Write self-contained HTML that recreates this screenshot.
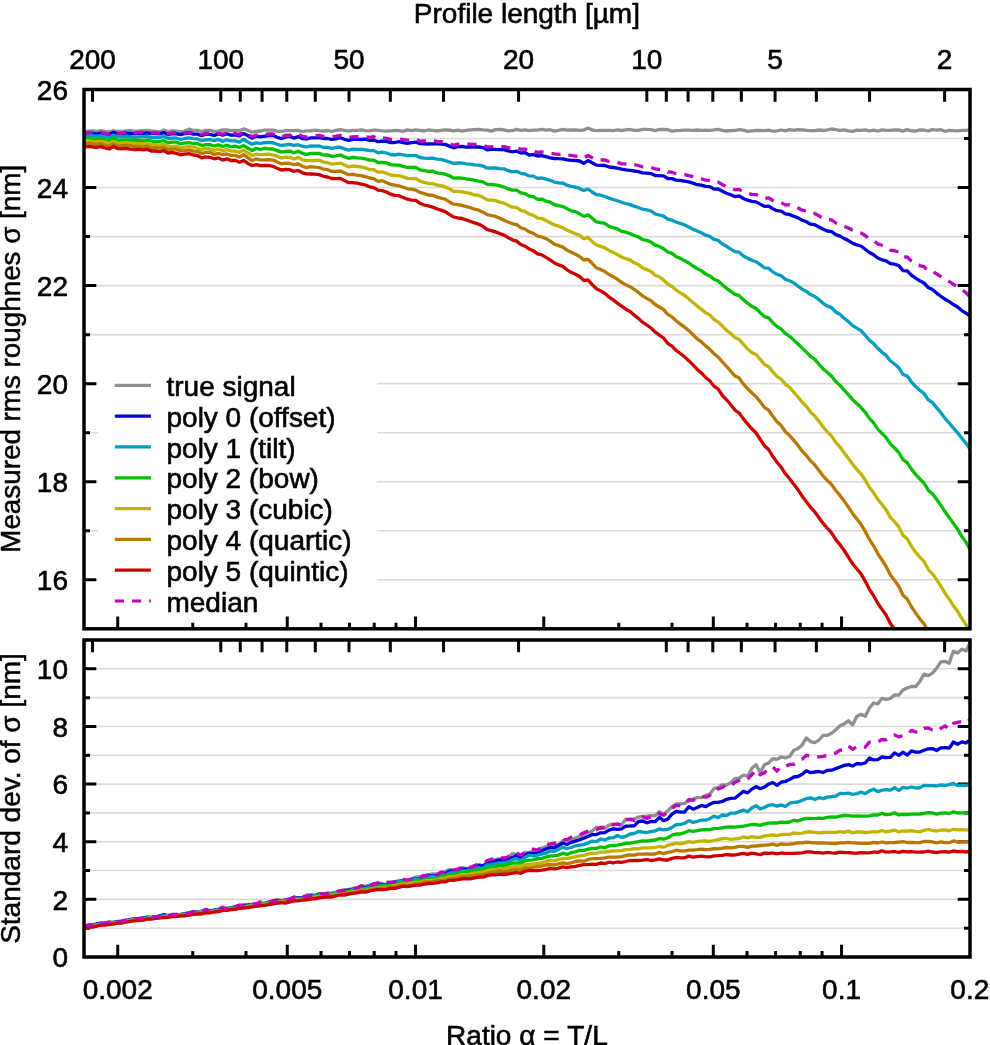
<!DOCTYPE html><html><head><meta charset="utf-8"><style>html,body{margin:0;padding:0;background:#fff;}svg{display:block;will-change:transform;}text{font-family:"Liberation Sans",sans-serif;font-size:28px;fill:#000;}</style></head><body>
<svg width="990" height="1045" viewBox="0 0 990 1045">
<rect width="990" height="1045" fill="#fff"/>
<defs><clipPath id="ct"><rect x="84.0" y="89.5" width="885.8" height="539.3"/></clipPath>
<clipPath id="cb"><rect x="84.0" y="640.0" width="885.8" height="317.0"/></clipPath></defs>
<path d="M84.0 579.77H969.8M84.0 530.75H969.8M84.0 481.72H969.8M84.0 432.69H969.8M84.0 383.66H969.8M84.0 334.64H969.8M84.0 285.61H969.8M84.0 236.58H969.8M84.0 187.55H969.8M84.0 138.53H969.8M84.0 928.18H969.8M84.0 899.36H969.8M84.0 870.55H969.8M84.0 841.73H969.8M84.0 812.91H969.8M84.0 784.09H969.8M84.0 755.27H969.8M84.0 726.45H969.8M84.0 697.64H969.8M84.0 668.82H969.8" stroke="#dadada" stroke-width="1.6" fill="none"/>
<path d="M117.73 628.80V616.50M117.73 957.00V944.70M192.75 628.80V622.80M192.75 957.00V951.00M245.98 628.80V622.80M245.98 957.00V951.00M287.27 628.80V616.50M287.27 957.00V944.70M321.00 628.80V622.80M321.00 957.00V951.00M349.52 628.80V622.80M349.52 957.00V951.00M374.23 628.80V622.80M374.23 957.00V951.00M396.02 628.80V622.80M396.02 957.00V951.00M415.52 628.80V616.50M415.52 957.00V944.70M543.77 628.80V616.50M543.77 957.00V944.70M618.79 628.80V622.80M618.79 957.00V951.00M672.02 628.80V622.80M672.02 957.00V951.00M713.30 628.80V616.50M713.30 957.00V944.70M747.04 628.80V622.80M747.04 957.00V951.00M775.56 628.80V622.80M775.56 957.00V951.00M800.26 628.80V622.80M800.26 957.00V951.00M822.06 628.80V622.80M822.06 957.00V951.00M841.55 628.80V616.50M841.55 957.00V944.70M92.53 89.50V101.80M92.53 640.00V652.30M220.78 89.50V101.80M220.78 640.00V652.30M240.28 89.50V101.80M240.28 640.00V652.30M262.07 89.50V101.80M262.07 640.00V652.30M286.78 89.50V101.80M286.78 640.00V652.30M315.30 89.50V101.80M315.30 640.00V652.30M349.03 89.50V101.80M349.03 640.00V652.30M390.32 89.50V101.80M390.32 640.00V652.30M443.55 89.50V101.80M443.55 640.00V652.30M518.57 89.50V101.80M518.57 640.00V652.30M646.82 89.50V101.80M666.31 89.50V101.80M666.31 640.00V652.30M688.10 89.50V101.80M688.10 640.00V652.30M712.81 89.50V101.80M712.81 640.00V652.30M741.33 89.50V101.80M741.33 640.00V652.30M775.06 89.50V101.80M775.06 640.00V652.30M816.35 89.50V101.80M816.35 640.00V652.30M869.58 89.50V101.80M869.58 640.00V652.30M944.60 89.50V101.80M944.60 640.00V652.30M84.00 579.77h12.30M970.00 579.77h-12.30M84.00 530.75h6.00M970.00 530.75h-6.00M84.00 481.72h12.30M970.00 481.72h-12.30M84.00 432.69h6.00M970.00 432.69h-6.00M84.00 383.66h12.30M970.00 383.66h-12.30M84.00 334.64h6.00M970.00 334.64h-6.00M84.00 285.61h12.30M970.00 285.61h-12.30M84.00 236.58h6.00M970.00 236.58h-6.00M84.00 187.55h12.30M970.00 187.55h-12.30M84.00 138.53h6.00M970.00 138.53h-6.00M84.00 928.18h6.00M970.00 928.18h-6.00M84.00 899.36h12.30M970.00 899.36h-12.30M84.00 870.55h6.00M970.00 870.55h-6.00M84.00 841.73h12.30M970.00 841.73h-12.30M84.00 812.91h6.00M970.00 812.91h-6.00M84.00 784.09h12.30M970.00 784.09h-12.30M84.00 755.27h6.00M970.00 755.27h-6.00M84.00 726.45h12.30M970.00 726.45h-12.30M84.00 697.64h6.00M970.00 697.64h-6.00M84.00 668.82h12.30M970.00 668.82h-12.30" stroke="#000" stroke-width="3" fill="none"/>
<g clip-path="url(#ct)" fill="none" stroke-width="3.3" stroke-linejoin="round">
<polyline stroke="#8f8f8f" points="84.0,131.6 88.2,131.1 92.4,130.8 96.6,131.5 100.8,130.7 105.0,131.3 109.2,131.6 113.4,131.0 117.6,131.4 121.8,131.5 126.0,131.0 130.2,130.6 134.4,131.4 138.6,131.0 142.8,131.0 147.0,130.3 151.2,130.9 155.4,131.3 159.6,131.9 163.8,130.0 168.0,131.7 172.2,130.8 176.4,131.1 180.6,131.7 184.8,131.3 189.0,129.1 193.2,130.5 197.4,130.3 201.6,131.5 205.8,130.4 210.0,130.3 214.2,131.5 218.4,131.1 222.6,129.8 226.8,130.0 231.0,130.7 235.2,130.4 239.4,130.8 243.6,128.9 247.8,130.3 252.0,132.2 256.2,131.3 260.4,131.0 264.6,130.2 268.8,130.2 273.0,130.1 277.2,131.1 281.4,131.5 285.6,130.6 289.8,130.6 294.0,130.6 298.2,130.5 302.4,131.6 306.6,130.9 310.8,130.8 315.0,130.1 319.2,130.7 323.4,131.2 327.6,130.5 331.8,131.5 336.0,130.3 340.2,129.7 344.4,130.3 348.6,131.1 352.8,130.3 357.0,130.4 361.2,129.9 365.4,130.6 369.6,130.9 373.8,130.0 378.0,130.4 382.2,130.8 386.4,131.1 390.6,130.9 394.8,130.5 399.0,130.6 403.2,131.3 407.4,129.9 411.6,130.6 415.8,129.8 420.0,130.3 424.2,131.0 428.4,130.0 432.6,130.3 436.8,131.0 441.0,130.3 445.2,129.9 449.4,130.1 453.6,131.0 457.8,130.1 462.0,131.2 466.2,130.4 470.4,129.8 474.6,129.6 478.8,129.4 483.0,129.9 487.2,130.2 491.4,131.1 495.6,129.6 499.8,129.5 504.0,129.9 508.2,130.8 512.4,130.7 516.6,129.3 520.8,130.3 525.0,129.9 529.2,130.7 533.4,130.2 537.6,130.2 541.8,129.4 546.0,130.1 550.2,129.7 554.4,131.1 558.6,130.3 562.8,129.3 567.0,130.1 571.2,129.9 575.4,130.0 579.6,130.4 583.8,130.0 588.0,128.1 592.2,130.0 596.4,130.6 600.6,130.4 604.8,130.4 609.0,130.4 613.2,130.7 617.4,129.9 621.6,130.5 625.8,129.9 630.0,129.5 634.2,130.4 638.4,130.3 642.6,129.4 646.8,129.4 651.0,129.7 655.2,130.7 659.4,129.5 663.6,129.5 667.8,129.7 672.0,131.1 676.2,130.6 680.4,130.4 684.6,130.1 688.8,130.2 693.0,130.3 697.2,130.0 701.4,130.3 705.6,130.1 709.8,130.3 714.0,129.9 718.2,129.4 722.4,130.4 726.6,131.0 730.8,130.6 735.0,130.5 739.2,129.6 743.4,130.2 747.6,131.4 751.8,130.9 756.0,130.4 760.2,130.5 764.4,130.6 768.6,130.2 772.8,131.1 777.0,130.8 781.2,130.0 785.4,130.9 789.6,129.7 793.8,130.3 798.0,129.6 802.2,129.8 806.4,130.4 810.6,130.7 814.8,130.7 819.0,130.0 823.2,130.5 827.4,129.9 831.6,129.0 835.8,129.7 840.0,130.3 844.2,129.8 848.4,130.8 852.6,131.3 856.8,130.2 861.0,130.4 865.2,129.9 869.4,131.0 873.6,130.1 877.8,131.1 882.0,129.9 886.2,130.3 890.4,130.4 894.6,130.0 898.8,129.9 903.0,131.1 907.2,129.6 911.4,130.9 915.6,131.0 919.8,129.8 924.0,130.0 928.2,131.0 932.4,129.6 936.6,130.1 940.8,129.7 945.0,131.3 949.2,130.4 953.4,130.7 957.6,130.8 961.8,130.4 966.0,130.4 970.0,129.9"/>
<polyline stroke="#0000d8" points="84.0,134.4 88.2,132.9 92.4,133.4 96.6,133.9 100.8,133.0 105.0,134.1 109.2,134.5 113.4,132.2 117.6,133.9 121.8,133.9 126.0,133.1 130.2,133.3 134.4,133.8 138.6,133.2 142.8,133.3 147.0,132.8 151.2,133.6 155.4,133.5 159.6,133.9 163.8,132.6 168.0,134.7 172.2,133.6 176.4,133.8 180.6,134.6 184.8,133.7 189.0,133.0 193.2,134.2 197.4,134.1 201.6,135.7 205.8,134.1 210.0,134.3 214.2,135.5 218.4,133.9 222.6,135.2 226.8,133.9 231.0,135.1 235.2,135.0 239.4,135.9 243.6,133.5 247.8,135.5 252.0,138.2 256.2,136.2 260.4,136.8 264.6,136.2 268.8,135.5 273.0,135.5 277.2,137.3 281.4,138.5 285.6,137.2 289.8,136.4 294.0,138.1 298.2,136.6 302.4,138.6 306.6,139.0 310.8,137.8 315.0,137.9 319.2,137.6 323.4,138.5 327.6,138.5 331.8,139.3 336.0,138.8 340.2,137.7 344.4,139.3 348.6,140.4 352.8,139.3 357.0,139.4 361.2,139.5 365.4,139.2 369.6,140.4 373.8,140.0 378.0,141.7 382.2,141.1 386.4,141.4 390.6,142.6 394.8,142.5 399.0,141.7 403.2,142.6 407.4,143.3 411.6,142.7 415.8,142.1 420.0,143.6 424.2,143.8 428.4,144.0 432.6,143.8 436.8,143.9 441.0,144.2 445.2,144.4 449.4,146.1 453.6,147.8 457.8,146.6 462.0,146.5 466.2,147.2 470.4,146.9 474.6,147.0 478.8,147.0 483.0,147.6 487.2,149.9 491.4,149.3 495.6,149.3 499.8,149.7 504.0,149.6 508.2,150.9 512.4,151.8 516.6,151.2 520.8,153.0 525.0,152.7 529.2,155.0 533.4,154.6 537.6,156.0 541.8,155.6 546.0,156.6 550.2,157.9 554.4,158.5 558.6,158.7 562.8,158.8 567.0,159.9 571.2,160.3 575.4,160.5 579.6,161.0 583.8,163.3 588.0,160.5 592.2,162.7 596.4,165.1 600.6,165.4 604.8,165.5 609.0,167.0 613.2,167.5 617.4,168.2 621.6,169.2 625.8,169.9 630.0,170.4 634.2,171.0 638.4,171.6 642.6,172.9 646.8,173.2 651.0,173.6 655.2,175.6 659.4,175.6 663.6,175.8 667.8,178.5 672.0,178.6 676.2,180.1 680.4,180.5 684.6,181.2 688.8,181.9 693.0,183.1 697.2,184.7 701.4,185.1 705.6,186.4 709.8,186.7 714.0,189.1 718.2,189.0 722.4,191.3 726.6,193.3 730.8,194.7 735.0,196.6 739.2,195.9 743.4,198.5 747.6,200.2 751.8,201.4 756.0,201.9 760.2,204.1 764.4,206.4 768.6,206.2 772.8,208.8 777.0,210.7 781.2,211.1 785.4,213.9 789.6,214.5 793.8,216.3 798.0,217.9 802.2,220.2 806.4,221.8 810.6,224.2 814.8,224.7 819.0,227.0 823.2,229.3 827.4,231.0 831.6,231.7 835.8,234.6 840.0,236.1 844.2,238.6 848.4,240.6 852.6,243.2 856.8,244.9 861.0,246.0 865.2,249.2 869.4,252.5 873.6,254.8 877.8,258.0 882.0,259.8 886.2,260.9 890.4,263.6 894.6,264.2 898.8,265.6 903.0,270.6 907.2,270.8 911.4,275.2 915.6,278.2 919.8,280.8 924.0,283.0 928.2,287.5 932.4,289.5 936.6,293.1 940.8,296.3 945.0,299.2 949.2,301.6 953.4,304.5 957.6,307.0 961.8,310.6 966.0,313.2 970.0,316.0"/>
<polyline stroke="#009dc0" points="84.0,136.9 88.2,135.9 92.4,135.8 96.6,136.2 100.8,135.8 105.0,136.5 109.2,137.5 113.4,135.2 117.6,136.6 121.8,136.9 126.0,136.1 130.2,136.7 134.4,137.5 138.6,136.8 142.8,136.8 147.0,136.3 151.2,137.6 155.4,137.6 159.6,137.4 163.8,136.5 168.0,138.5 172.2,138.2 176.4,138.0 180.6,139.5 184.8,138.5 189.0,137.9 193.2,138.7 197.4,138.9 201.6,140.7 205.8,139.8 210.0,139.6 214.2,140.7 218.4,139.4 222.6,141.3 226.8,139.9 231.0,140.9 235.2,140.9 239.4,142.2 243.6,139.4 247.8,141.9 252.0,144.2 256.2,142.9 260.4,143.3 264.6,142.7 268.8,142.3 273.0,142.8 277.2,144.2 281.4,145.5 285.6,144.9 289.8,144.3 294.0,145.4 298.2,144.7 302.4,146.2 306.6,147.0 310.8,145.9 315.0,146.2 319.2,146.0 323.4,147.4 327.6,147.4 331.8,148.3 336.0,147.5 340.2,147.2 344.4,148.9 348.6,150.2 352.8,149.1 357.0,149.3 361.2,149.3 365.4,149.9 369.6,150.6 373.8,150.6 378.0,152.8 382.2,152.1 386.4,153.0 390.6,154.5 394.8,155.0 399.0,154.1 403.2,154.9 407.4,155.7 411.6,155.6 415.8,155.4 420.0,157.5 424.2,158.2 428.4,158.4 432.6,158.2 436.8,159.1 441.0,159.4 445.2,160.6 449.4,162.0 453.6,163.5 457.8,163.0 462.0,163.0 466.2,163.8 470.4,164.2 474.6,164.8 478.8,165.1 483.0,166.1 487.2,168.2 491.4,168.0 495.6,168.0 499.8,168.6 504.0,168.8 508.2,170.7 512.4,171.9 516.6,171.3 520.8,173.3 525.0,174.0 529.2,175.9 533.4,176.1 537.6,178.4 541.8,178.0 546.0,179.2 550.2,180.3 554.4,182.1 558.6,182.9 562.8,183.1 567.0,185.2 571.2,186.3 575.4,187.1 579.6,188.4 583.8,190.5 588.0,189.0 592.2,192.0 596.4,194.7 600.6,195.2 604.8,196.5 609.0,198.1 613.2,199.5 617.4,200.8 621.6,202.3 625.8,203.5 630.0,204.6 634.2,206.1 638.4,207.5 642.6,209.2 646.8,209.9 651.0,211.0 655.2,213.9 659.4,215.0 663.6,216.1 667.8,219.2 672.0,220.2 676.2,222.1 680.4,223.5 684.6,224.9 688.8,227.0 693.0,229.4 697.2,231.0 701.4,232.8 705.6,235.2 709.8,236.3 714.0,239.3 718.2,240.4 722.4,243.9 726.6,246.3 730.8,249.2 735.0,251.7 739.2,252.2 743.4,256.0 747.6,258.2 751.8,260.3 756.0,261.7 760.2,264.6 764.4,267.8 768.6,268.2 772.8,271.8 777.0,274.3 781.2,275.8 785.4,279.2 789.6,280.8 793.8,282.9 798.0,286.1 802.2,289.3 806.4,291.4 810.6,294.6 814.8,296.6 819.0,299.7 823.2,303.3 827.4,306.1 831.6,307.6 835.8,312.0 840.0,314.4 844.2,318.2 848.4,321.6 852.6,325.6 856.8,328.2 861.0,330.7 865.2,335.3 869.4,340.2 873.6,343.6 877.8,348.3 882.0,352.3 886.2,355.6 890.4,361.0 894.6,364.0 898.8,367.7 903.0,374.5 907.2,376.0 911.4,382.0 915.6,386.6 919.8,390.2 924.0,393.5 928.2,399.6 932.4,402.6 936.6,407.6 940.8,412.6 945.0,418.4 949.2,423.0 953.4,428.0 957.6,432.8 961.8,438.3 966.0,443.2 970.0,449.2"/>
<polyline stroke="#00c000" points="84.0,139.6 88.2,138.6 92.4,139.0 96.6,139.0 100.8,138.5 105.0,139.8 109.2,140.8 113.4,138.0 117.6,140.5 121.8,140.2 126.0,139.9 130.2,140.0 134.4,140.5 138.6,140.4 142.8,140.8 147.0,140.1 151.2,141.1 155.4,141.6 159.6,141.5 163.8,140.7 168.0,142.9 172.2,142.1 176.4,142.1 180.6,143.9 184.8,143.0 189.0,142.6 193.2,143.5 197.4,143.5 201.6,145.6 205.8,144.6 210.0,144.7 214.2,146.0 218.4,144.8 222.6,146.5 226.8,145.3 231.0,146.6 235.2,146.2 239.4,147.5 243.6,145.6 247.8,148.1 252.0,150.7 256.2,148.3 260.4,149.3 264.6,148.3 268.8,148.8 273.0,149.0 277.2,150.6 281.4,152.1 285.6,151.5 289.8,151.1 294.0,152.7 298.2,151.2 302.4,153.3 306.6,154.3 310.8,153.3 315.0,153.3 319.2,153.4 323.4,155.0 327.6,154.9 331.8,156.3 336.0,155.8 340.2,155.0 344.4,156.7 348.6,158.3 352.8,157.4 357.0,157.9 361.2,158.1 365.4,158.9 369.6,160.1 373.8,160.2 378.0,162.5 382.2,162.5 386.4,162.9 390.6,164.6 394.8,165.1 399.0,165.2 403.2,166.4 407.4,167.5 411.6,167.4 415.8,167.3 420.0,169.9 424.2,170.6 428.4,171.4 432.6,171.1 436.8,172.8 441.0,173.3 445.2,174.2 449.4,175.8 453.6,178.1 457.8,177.9 462.0,178.1 466.2,179.0 470.4,179.4 474.6,180.4 478.8,181.2 483.0,181.8 487.2,184.3 491.4,184.5 495.6,184.9 499.8,185.7 504.0,187.1 508.2,188.9 512.4,190.1 516.6,190.2 520.8,192.8 525.0,193.6 529.2,196.2 533.4,196.7 537.6,199.3 541.8,199.1 546.0,201.2 550.2,202.2 554.4,204.6 558.6,205.7 562.8,206.6 567.0,208.6 571.2,210.8 575.4,211.6 579.6,213.8 583.8,216.4 588.0,214.8 592.2,218.2 596.4,221.9 600.6,222.6 604.8,223.4 609.0,226.3 613.2,227.6 617.4,228.8 621.6,231.3 625.8,232.2 630.0,233.6 634.2,235.5 638.4,237.0 642.6,239.5 646.8,240.4 651.0,242.1 655.2,245.2 659.4,246.5 663.6,248.7 667.8,252.0 672.0,253.4 676.2,256.7 680.4,258.4 684.6,260.6 688.8,263.0 693.0,266.0 697.2,268.6 701.4,270.8 705.6,273.9 709.8,275.9 714.0,279.2 718.2,281.0 722.4,284.7 726.6,288.3 730.8,291.4 735.0,294.4 739.2,295.6 743.4,299.7 747.6,303.2 751.8,306.3 756.0,308.5 760.2,312.7 764.4,316.6 768.6,317.8 772.8,322.8 777.0,326.6 781.2,329.2 785.4,333.5 789.6,336.3 793.8,340.1 798.0,344.0 802.2,348.1 806.4,352.1 810.6,356.4 814.8,359.4 819.0,364.3 823.2,368.9 827.4,372.6 831.6,376.2 835.8,381.6 840.0,385.4 844.2,390.1 848.4,394.6 852.6,399.6 856.8,403.5 861.0,407.5 865.2,412.3 869.4,418.4 873.6,422.8 877.8,429.1 882.0,433.4 886.2,437.7 890.4,443.9 894.6,448.0 898.8,452.5 903.0,459.6 907.2,462.7 911.4,469.1 915.6,474.3 919.8,478.9 924.0,483.2 928.2,490.2 932.4,493.7 936.6,499.2 940.8,505.1 945.0,511.7 949.2,517.4 953.4,523.4 957.6,529.3 961.8,536.4 966.0,542.3 970.0,549.7"/>
<polyline stroke="#c0b400" points="84.0,142.1 88.2,140.6 92.4,141.3 96.6,141.8 100.8,141.4 105.0,142.1 109.2,143.5 113.4,141.3 117.6,143.3 121.8,143.3 126.0,142.6 130.2,143.2 134.4,143.4 138.6,143.3 142.8,143.6 147.0,143.3 151.2,145.0 155.4,144.5 159.6,145.2 163.8,144.2 168.0,146.4 172.2,146.4 176.4,146.1 180.6,148.2 184.8,147.2 189.0,146.3 193.2,147.2 197.4,148.2 201.6,149.7 205.8,148.4 210.0,149.0 214.2,150.4 218.4,149.0 222.6,150.8 226.8,149.7 231.0,151.0 235.2,151.2 239.4,152.3 243.6,150.2 247.8,152.9 252.0,155.6 256.2,154.2 260.4,154.7 264.6,154.4 268.8,154.1 273.0,155.0 277.2,156.2 281.4,158.1 285.6,157.2 289.8,157.4 294.0,159.0 298.2,157.3 302.4,159.8 306.6,160.6 310.8,160.4 315.0,160.5 319.2,160.2 323.4,162.1 327.6,162.7 331.8,164.1 336.0,163.7 340.2,163.1 344.4,164.9 348.6,167.0 352.8,166.0 357.0,166.5 361.2,166.9 365.4,167.8 369.6,169.5 373.8,169.7 378.0,172.1 382.2,172.0 386.4,173.2 390.6,175.0 394.8,175.7 399.0,175.6 403.2,176.8 407.4,178.4 411.6,178.6 415.8,178.5 420.0,181.2 424.2,182.4 428.4,183.3 432.6,183.6 436.8,184.8 441.0,185.6 445.2,186.9 449.4,188.8 453.6,191.4 457.8,191.4 462.0,191.8 466.2,192.7 470.4,193.4 474.6,195.0 478.8,195.4 483.0,197.3 487.2,199.9 491.4,200.1 495.6,200.6 499.8,202.1 504.0,203.1 508.2,205.4 512.4,207.1 516.6,207.4 520.8,210.4 525.0,211.4 529.2,214.2 533.4,215.4 537.6,218.1 541.8,218.3 546.0,220.5 550.2,222.7 554.4,224.9 558.6,226.2 562.8,227.6 567.0,230.3 571.2,232.1 575.4,233.8 579.6,235.3 583.8,238.8 588.0,237.4 592.2,241.7 596.4,244.9 600.6,246.4 604.8,247.8 609.0,250.4 613.2,252.4 617.4,254.6 621.6,257.0 625.8,258.7 630.0,259.9 634.2,262.8 638.4,264.6 642.6,267.9 646.8,269.6 651.0,271.5 655.2,275.3 659.4,276.8 663.6,280.1 667.8,284.0 672.0,286.6 676.2,290.1 680.4,292.8 684.6,295.5 688.8,298.9 693.0,302.6 697.2,306.1 701.4,309.3 705.6,312.7 709.8,315.2 714.0,319.4 718.2,322.1 722.4,326.0 726.6,330.3 730.8,333.5 735.0,337.6 739.2,339.5 743.4,344.4 747.6,349.0 751.8,352.6 756.0,354.5 760.2,359.3 764.4,364.4 768.6,366.7 772.8,371.9 777.0,376.3 781.2,379.1 785.4,384.3 789.6,387.3 793.8,392.1 798.0,397.0 802.2,402.3 806.4,406.4 810.6,412.1 814.8,416.1 819.0,421.3 823.2,427.0 827.4,432.0 831.6,436.1 835.8,442.4 840.0,447.0 844.2,452.9 848.4,458.3 852.6,464.2 856.8,469.5 861.0,473.9 865.2,480.0 869.4,487.3 873.6,492.6 877.8,499.3 882.0,504.6 886.2,509.9 890.4,517.4 894.6,521.7 898.8,526.9 903.0,535.2 907.2,538.8 911.4,546.1 915.6,552.1 919.8,557.2 924.0,561.5 928.2,569.3 932.4,573.8 936.6,579.6 940.8,586.2 945.0,593.1 949.2,599.2 953.4,605.7 957.6,611.3 961.8,618.3 966.0,624.7 970.0,631.5"/>
<polyline stroke="#b87800" points="84.0,144.7 88.2,143.2 92.4,144.0 96.6,144.3 100.8,143.7 105.0,145.2 109.2,145.8 113.4,143.8 117.6,145.8 121.8,145.9 126.0,145.3 130.2,145.6 134.4,146.6 138.6,146.4 142.8,147.0 147.0,146.2 151.2,147.8 155.4,147.7 159.6,147.9 163.8,147.5 168.0,149.9 172.2,149.1 176.4,149.2 180.6,151.0 184.8,150.6 189.0,149.9 193.2,151.2 197.4,151.3 201.6,153.5 205.8,152.4 210.0,152.3 214.2,154.4 218.4,153.3 222.6,154.7 226.8,154.0 231.0,155.3 235.2,155.4 239.4,157.0 243.6,154.6 247.8,157.7 252.0,160.7 256.2,158.8 260.4,159.9 264.6,159.9 268.8,159.7 273.0,160.1 277.2,161.9 281.4,163.8 285.6,163.2 289.8,163.5 294.0,164.7 298.2,164.0 302.4,166.2 306.6,167.6 310.8,166.7 315.0,167.2 319.2,167.4 323.4,169.2 327.6,169.7 331.8,171.4 336.0,171.3 340.2,171.0 344.4,172.7 348.6,174.7 352.8,174.4 357.0,175.1 361.2,175.6 365.4,176.7 369.6,178.0 373.8,178.6 378.0,181.4 382.2,180.7 386.4,182.6 390.6,184.4 394.8,185.2 399.0,185.8 403.2,187.3 407.4,188.8 411.6,189.1 415.8,190.1 420.0,192.4 424.2,193.7 428.4,195.0 432.6,195.3 436.8,197.1 441.0,198.2 445.2,199.1 449.4,202.0 453.6,204.2 457.8,204.6 462.0,205.4 466.2,206.6 470.4,207.7 474.6,209.2 478.8,210.2 483.0,212.2 487.2,214.7 491.4,215.5 495.6,216.4 499.8,218.2 504.0,220.3 508.2,222.1 512.4,223.8 516.6,224.6 520.8,227.8 525.0,229.0 529.2,231.8 533.4,233.4 537.6,236.2 541.8,237.0 546.0,238.7 550.2,241.2 554.4,244.2 558.6,245.6 562.8,247.1 567.0,250.1 571.2,252.3 575.4,254.3 579.6,256.5 583.8,260.1 588.0,259.2 592.2,263.3 596.4,268.0 600.6,269.4 604.8,271.5 609.0,274.5 613.2,276.7 617.4,279.4 621.6,282.3 625.8,284.8 630.0,286.7 634.2,289.3 638.4,292.4 642.6,295.9 646.8,298.4 651.0,300.7 655.2,304.5 659.4,307.0 663.6,309.6 667.8,314.4 672.0,316.9 676.2,320.9 680.4,324.1 684.6,327.2 688.8,330.6 693.0,334.7 697.2,338.8 701.4,341.9 705.6,345.9 709.8,349.3 714.0,353.7 718.2,357.1 722.4,361.8 726.6,366.5 730.8,371.2 735.0,376.1 739.2,378.1 743.4,384.1 747.6,388.7 751.8,392.8 756.0,396.6 760.2,401.8 764.4,407.3 768.6,410.2 772.8,416.3 777.0,421.8 781.2,425.5 785.4,431.7 789.6,435.4 793.8,440.4 798.0,445.4 802.2,451.2 806.4,455.5 810.6,460.9 814.8,464.9 819.0,470.5 823.2,476.0 827.4,480.6 831.6,484.5 835.8,490.5 840.0,495.4 844.2,501.1 848.4,507.1 852.6,513.4 856.8,518.9 861.0,524.3 865.2,531.3 869.4,539.4 873.6,545.8 877.8,553.6 882.0,560.0 886.2,566.7 890.4,575.0 894.6,580.6 898.8,586.2 903.0,595.2 907.2,598.9 911.4,606.8 915.6,612.9 919.8,618.7 924.0,623.9 928.2,631.2 932.4,635.8 936.6,641.2 940.8,647.6 945.0,654.2 949.2,659.7 953.4,665.5 957.6,670.6 961.8,676.1 966.0,681.4 970.0,687.1"/>
<polyline stroke="#cc0000" points="84.0,147.3 88.2,146.5 92.4,146.8 96.6,147.5 100.8,146.7 105.0,148.0 109.2,149.0 113.4,146.4 117.6,148.5 121.8,148.9 126.0,148.4 130.2,149.1 134.4,149.7 138.6,149.3 142.8,149.9 147.0,149.3 151.2,151.0 155.4,151.0 159.6,151.7 163.8,150.7 168.0,153.1 172.2,152.4 176.4,153.4 180.6,154.8 184.8,154.1 189.0,153.7 193.2,155.0 197.4,155.5 201.6,157.9 205.8,156.9 210.0,157.3 214.2,158.8 218.4,157.9 222.6,160.1 226.8,158.9 231.0,160.5 235.2,160.3 239.4,162.3 243.6,160.4 247.8,163.4 252.0,165.5 256.2,164.7 260.4,165.6 264.6,165.5 268.8,165.5 273.0,166.3 277.2,168.3 281.4,170.0 285.6,169.5 289.8,169.7 294.0,171.4 298.2,170.4 302.4,172.8 306.6,173.9 310.8,174.0 315.0,174.1 319.2,174.6 323.4,176.3 327.6,177.0 331.8,178.5 336.0,178.6 340.2,178.5 344.4,180.4 348.6,182.7 352.8,182.7 357.0,183.2 361.2,184.1 365.4,185.0 369.6,186.8 373.8,187.6 378.0,190.2 382.2,190.6 386.4,192.0 390.6,194.2 394.8,195.4 399.0,195.7 403.2,197.5 407.4,199.2 411.6,200.1 415.8,200.3 420.0,203.3 424.2,205.0 428.4,205.9 432.6,207.1 436.8,208.9 441.0,210.1 445.2,211.6 449.4,214.4 453.6,217.0 457.8,217.9 462.0,218.5 466.2,219.9 470.4,221.5 474.6,222.9 478.8,224.2 483.0,226.4 487.2,229.6 491.4,230.6 495.6,231.9 499.8,233.6 504.0,235.1 508.2,237.7 512.4,239.8 516.6,241.1 520.8,244.5 525.0,246.2 529.2,249.0 533.4,250.8 537.6,253.9 541.8,254.9 546.0,257.4 550.2,260.0 554.4,262.9 558.6,264.9 562.8,266.4 567.0,269.8 571.2,272.3 575.4,274.2 579.6,276.5 583.8,280.5 588.0,279.9 592.2,284.6 596.4,288.7 600.6,290.9 604.8,293.3 609.0,296.9 613.2,299.9 617.4,303.2 621.6,306.2 625.8,309.2 630.0,311.5 634.2,315.1 638.4,318.4 642.6,322.2 646.8,325.0 651.0,328.0 655.2,332.2 659.4,335.2 663.6,338.0 667.8,343.5 672.0,346.1 676.2,350.5 680.4,353.5 684.6,356.9 688.8,360.7 693.0,364.9 697.2,369.3 701.4,372.9 705.6,377.5 709.8,380.8 714.0,386.2 718.2,389.2 722.4,395.5 726.6,399.8 730.8,404.7 735.0,410.1 739.2,413.0 743.4,418.9 747.6,423.9 751.8,428.9 756.0,433.0 760.2,439.2 764.4,445.7 768.6,449.5 772.8,456.4 777.0,462.3 781.2,467.2 785.4,473.8 789.6,478.7 793.8,484.3 798.0,489.8 802.2,496.2 806.4,501.7 810.6,507.3 814.8,512.0 819.0,517.8 823.2,523.4 827.4,528.3 831.6,532.8 835.8,539.6 840.0,544.7 844.2,550.5 848.4,557.1 852.6,563.7 856.8,568.8 861.0,573.9 865.2,581.1 869.4,589.3 873.6,595.7 877.8,603.2 882.0,609.4 886.2,615.3 890.4,623.6 894.6,629.2 898.8,634.8 903.0,644.0 907.2,648.2 911.4,656.3 915.6,663.1 919.8,669.8 924.0,675.5 928.2,684.9 932.4,690.4 936.6,698.5 940.8,706.8 945.0,716.0 949.2,724.3 953.4,733.8 957.6,742.2 961.8,752.1 966.0,762.1 970.0,772.9"/>
<polyline stroke="#c000c0" stroke-dasharray="9.2 8" points="84.0,133.7 88.2,132.5 92.4,132.6 96.6,133.1 100.8,132.3 105.0,133.3 109.2,134.5 113.4,131.8 117.6,133.4 121.8,133.2 126.0,132.3 130.2,132.5 134.4,133.2 138.6,132.7 142.8,132.0 147.0,131.8 151.2,133.0 155.4,132.7 159.6,133.1 163.8,131.7 168.0,134.0 172.2,132.8 176.4,132.6 180.6,134.4 184.8,132.9 189.0,132.3 193.2,132.8 197.4,132.9 201.6,134.9 205.8,133.4 210.0,133.0 214.2,134.2 218.4,133.4 222.6,134.2 226.8,132.7 231.0,133.9 235.2,133.5 239.4,134.5 243.6,132.3 247.8,134.6 252.0,136.7 256.2,135.1 260.4,135.2 264.6,134.5 268.8,134.0 273.0,134.0 277.2,135.5 281.4,136.7 285.6,135.4 289.8,135.1 294.0,136.1 298.2,134.4 302.4,136.3 306.6,137.2 310.8,135.8 315.0,136.0 319.2,135.4 323.4,136.4 327.6,136.0 331.8,136.8 336.0,136.2 340.2,135.5 344.4,136.9 348.6,137.5 352.8,136.8 357.0,136.7 361.2,136.9 365.4,136.8 369.6,137.4 373.8,136.7 378.0,138.7 382.2,137.8 386.4,138.3 390.6,139.3 394.8,139.5 399.0,139.0 403.2,139.7 407.4,140.2 411.6,139.8 415.8,139.3 420.0,141.1 424.2,141.0 428.4,141.3 432.6,140.6 436.8,141.4 441.0,141.6 445.2,142.0 449.4,143.6 453.6,145.3 457.8,144.2 462.0,143.8 466.2,144.2 470.4,144.1 474.6,144.5 478.8,144.3 483.0,145.3 487.2,146.9 491.4,146.7 495.6,146.4 499.8,146.8 504.0,146.7 508.2,147.6 512.4,148.1 516.6,147.7 520.8,149.2 525.0,149.1 529.2,151.1 533.4,150.7 537.6,152.5 541.8,152.0 546.0,152.3 550.2,153.3 554.4,153.9 558.6,154.4 562.8,153.7 567.0,155.0 571.2,155.3 575.4,156.2 579.6,156.0 583.8,157.8 588.0,155.5 592.2,157.7 596.4,160.0 600.6,159.8 604.8,160.0 609.0,161.5 613.2,161.9 617.4,162.2 621.6,163.9 625.8,163.8 630.0,164.3 634.2,164.7 638.4,165.5 642.6,166.8 646.8,166.8 651.0,167.5 655.2,168.9 659.4,169.3 663.6,169.5 667.8,172.0 672.0,172.2 676.2,173.7 680.4,174.5 684.6,174.6 688.8,175.7 693.0,176.7 697.2,178.0 701.4,178.8 705.6,180.2 709.8,180.4 714.0,182.4 718.2,182.1 722.4,184.7 726.6,186.4 730.8,188.0 735.0,189.8 739.2,189.4 743.4,191.8 747.6,193.4 751.8,194.4 756.0,194.6 760.2,196.7 764.4,198.6 768.6,197.9 772.8,200.5 777.0,202.5 781.2,202.6 785.4,204.9 789.6,204.8 793.8,206.6 798.0,208.1 802.2,210.2 806.4,211.1 810.6,213.2 814.8,213.5 819.0,215.9 823.2,218.6 827.4,219.6 831.6,219.8 835.8,223.0 840.0,223.9 844.2,226.3 848.4,228.0 852.6,230.3 856.8,231.8 861.0,233.0 865.2,235.5 869.4,239.2 873.6,240.4 877.8,243.9 882.0,245.3 886.2,246.7 890.4,250.1 894.6,250.7 898.8,252.2 903.0,257.0 907.2,257.0 911.4,261.0 915.6,263.8 919.8,265.6 924.0,266.6 928.2,271.0 932.4,271.4 936.6,273.8 940.8,276.5 945.0,279.2 949.2,281.5 953.4,284.4 957.6,286.4 961.8,289.5 966.0,292.7 970.0,297.0"/>
</g>
<g clip-path="url(#cb)" fill="none" stroke-width="3.3" stroke-linejoin="round">
<polyline stroke="#8f8f8f" points="84.0,926.6 88.2,925.3 92.4,925.0 96.6,923.9 100.8,923.0 105.0,923.7 109.2,921.9 113.4,922.1 117.6,921.5 121.8,920.5 126.0,920.5 130.2,919.5 134.4,918.9 138.6,918.5 142.8,917.7 147.0,917.4 151.2,917.1 155.4,917.4 159.6,916.3 163.8,914.6 168.0,916.1 172.2,915.1 176.4,914.7 180.6,914.4 184.8,913.3 189.0,912.8 193.2,911.8 197.4,913.3 201.6,911.0 205.8,909.3 210.0,910.6 214.2,910.5 218.4,909.2 222.6,906.8 226.8,909.5 231.0,907.5 235.2,906.6 239.4,906.1 243.6,905.1 247.8,904.3 252.0,904.9 256.2,903.7 260.4,903.5 264.6,903.0 268.8,902.1 273.0,900.8 277.2,899.4 281.4,900.7 285.6,899.7 289.8,899.6 294.0,897.2 298.2,898.4 302.4,897.3 306.6,894.9 310.8,895.0 315.0,895.3 319.2,893.7 323.4,893.6 327.6,893.8 331.8,892.9 336.0,892.5 340.2,890.6 344.4,889.6 348.6,889.5 352.8,888.4 357.0,888.2 361.2,885.7 365.4,886.4 369.6,885.1 373.8,883.9 378.0,883.1 382.2,883.5 386.4,885.1 390.6,882.8 394.8,881.6 399.0,880.5 403.2,880.7 407.4,880.6 411.6,879.0 415.8,876.9 420.0,876.6 424.2,875.3 428.4,875.0 432.6,873.9 436.8,873.9 441.0,872.8 445.2,871.5 449.4,869.5 453.6,870.4 457.8,869.6 462.0,867.6 466.2,868.4 470.4,868.4 474.6,866.1 478.8,864.3 483.0,866.3 487.2,863.1 491.4,861.3 495.6,859.4 499.8,859.0 504.0,857.7 508.2,857.3 512.4,853.6 516.6,854.4 520.8,857.1 525.0,852.5 529.2,852.6 533.4,850.9 537.6,850.0 541.8,848.1 546.0,846.8 550.2,844.8 554.4,846.1 558.6,844.5 562.8,840.6 567.0,840.0 571.2,839.8 575.4,838.1 579.6,835.9 583.8,834.4 588.0,832.8 592.2,831.1 596.4,827.2 600.6,828.5 604.8,828.2 609.0,825.1 613.2,824.1 617.4,823.8 621.6,824.9 625.8,819.0 630.0,820.0 634.2,818.9 638.4,817.1 642.6,816.3 646.8,816.2 651.0,815.6 655.2,815.8 659.4,811.7 663.6,814.2 667.8,810.8 672.0,806.7 676.2,804.0 680.4,803.8 684.6,803.3 688.8,800.6 693.0,799.1 697.2,797.6 701.4,797.5 705.6,795.4 709.8,794.1 714.0,788.6 718.2,787.2 722.4,784.8 726.6,785.0 730.8,782.6 735.0,778.5 739.2,778.2 743.4,775.1 747.6,776.2 751.8,768.4 756.0,764.6 760.2,772.7 764.4,764.8 768.6,762.9 772.8,758.8 777.0,759.2 781.2,757.0 785.4,757.8 789.6,756.5 793.8,750.3 798.0,748.5 802.2,744.9 806.4,737.9 810.6,741.6 814.8,742.6 819.0,740.0 823.2,735.4 827.4,735.3 831.6,733.2 835.8,729.8 840.0,725.8 844.2,723.9 848.4,720.7 852.6,724.8 856.8,716.5 861.0,714.2 865.2,716.4 869.4,708.1 873.6,703.0 877.8,703.9 882.0,698.3 886.2,699.4 890.4,698.5 894.6,694.8 898.8,695.2 903.0,690.0 907.2,687.9 911.4,686.5 915.6,686.7 919.8,681.4 924.0,674.1 928.2,675.6 932.4,673.1 936.6,668.4 940.8,661.9 945.0,661.3 949.2,663.3 953.4,651.2 957.6,653.0 961.8,649.1 966.0,650.9 970.0,642.8"/>
<polyline stroke="#0000d8" points="84.0,926.1 88.2,925.4 92.4,925.1 96.6,924.0 100.8,923.3 105.0,923.5 109.2,922.7 113.4,922.5 117.6,922.0 121.8,921.6 126.0,920.5 130.2,919.7 134.4,918.9 138.6,918.9 142.8,918.5 147.0,917.1 151.2,917.7 155.4,917.1 159.6,915.9 163.8,914.9 168.0,915.7 172.2,915.1 176.4,914.9 180.6,914.7 184.8,913.8 189.0,913.0 193.2,911.8 197.4,912.1 201.6,911.7 205.8,910.0 210.0,911.0 214.2,910.0 218.4,909.8 222.6,908.9 226.8,908.6 231.0,908.0 235.2,906.8 239.4,905.7 243.6,905.6 247.8,905.2 252.0,904.4 256.2,904.4 260.4,903.4 264.6,904.0 268.8,902.1 273.0,901.0 277.2,901.0 281.4,900.8 285.6,900.2 289.8,899.0 294.0,897.2 298.2,898.0 302.4,898.1 306.6,896.7 310.8,895.5 315.0,895.6 319.2,894.1 323.4,894.3 327.6,893.8 331.8,893.8 336.0,892.8 340.2,890.8 344.4,891.1 348.6,890.1 352.8,889.4 357.0,888.3 361.2,886.3 365.4,887.7 369.6,886.5 373.8,884.0 378.0,883.8 382.2,884.9 386.4,884.4 390.6,883.2 394.8,882.2 399.0,881.8 403.2,880.7 407.4,881.1 411.6,879.3 415.8,878.9 420.0,879.1 424.2,876.3 428.4,875.8 432.6,875.8 436.8,876.0 441.0,873.7 445.2,873.9 449.4,871.1 453.6,870.7 457.8,870.7 462.0,869.2 466.2,869.2 470.4,868.9 474.6,866.4 478.8,865.7 483.0,865.9 487.2,863.0 491.4,862.7 495.6,860.8 499.8,859.8 504.0,860.7 508.2,858.8 512.4,857.7 516.6,855.4 520.8,858.4 525.0,854.8 529.2,853.3 533.4,853.5 537.6,853.2 541.8,850.7 546.0,849.0 550.2,847.5 554.4,847.8 558.6,845.5 562.8,843.0 567.0,844.5 571.2,842.3 575.4,841.1 579.6,839.7 583.8,838.1 588.0,836.5 592.2,834.6 596.4,834.6 600.6,832.8 604.8,832.6 609.0,830.1 613.2,828.9 617.4,829.4 621.6,828.8 625.8,826.1 630.0,826.0 634.2,825.8 638.4,821.5 642.6,821.0 646.8,822.8 651.0,821.5 655.2,821.6 659.4,817.3 663.6,820.7 667.8,819.1 672.0,814.0 676.2,811.3 680.4,812.1 684.6,812.0 688.8,806.7 693.0,809.2 697.2,807.5 701.4,805.4 705.6,806.7 709.8,804.3 714.0,802.3 718.2,802.3 722.4,801.4 726.6,799.3 730.8,798.4 735.0,798.2 739.2,794.8 743.4,791.4 747.6,792.9 751.8,789.1 756.0,786.6 760.2,788.7 764.4,787.1 768.6,784.2 772.8,782.5 777.0,785.4 781.2,782.2 785.4,781.4 789.6,779.6 793.8,777.0 798.0,776.5 802.2,774.3 806.4,770.8 810.6,772.7 814.8,772.0 819.0,771.5 823.2,772.5 827.4,770.3 831.6,770.2 835.8,768.6 840.0,767.0 844.2,765.4 848.4,764.6 852.6,766.0 856.8,763.6 861.0,764.0 865.2,763.0 869.4,758.0 873.6,759.9 877.8,759.6 882.0,757.0 886.2,757.6 890.4,757.4 894.6,752.9 898.8,755.4 903.0,752.2 907.2,755.1 911.4,750.8 915.6,752.1 919.8,752.1 924.0,750.2 928.2,748.8 932.4,748.6 936.6,750.5 940.8,747.8 945.0,747.7 949.2,748.2 953.4,742.0 957.6,744.4 961.8,741.9 966.0,743.0 970.0,739.7"/>
<polyline stroke="#009dc0" points="84.0,926.8 88.2,926.0 92.4,925.5 96.6,924.7 100.8,924.0 105.0,923.5 109.2,923.1 113.4,922.9 117.6,922.2 121.8,922.1 126.0,920.6 130.2,920.2 134.4,919.3 138.6,918.7 142.8,918.6 147.0,918.2 151.2,917.5 155.4,916.6 159.6,916.5 163.8,916.0 168.0,915.7 172.2,915.9 176.4,915.2 180.6,915.0 184.8,914.2 189.0,913.4 193.2,912.9 197.4,912.6 201.6,911.6 205.8,910.7 210.0,911.4 214.2,910.4 218.4,909.8 222.6,908.9 226.8,909.3 231.0,908.0 235.2,907.6 239.4,906.0 243.6,906.5 247.8,905.8 252.0,904.6 256.2,904.6 260.4,903.6 264.6,903.5 268.8,902.7 273.0,901.7 277.2,902.0 281.4,901.0 285.6,900.3 289.8,899.9 294.0,897.3 298.2,899.0 302.4,898.4 306.6,897.2 310.8,896.2 315.0,895.6 319.2,894.9 323.4,894.6 327.6,893.7 331.8,894.1 336.0,892.5 340.2,892.2 344.4,891.3 348.6,891.5 352.8,889.6 357.0,888.8 361.2,887.8 365.4,888.7 369.6,887.1 373.8,885.7 378.0,885.1 382.2,885.5 386.4,885.0 390.6,884.1 394.8,884.1 399.0,881.7 403.2,881.1 407.4,881.5 411.6,880.5 415.8,879.2 420.0,879.6 424.2,877.8 428.4,877.2 432.6,876.6 436.8,877.2 441.0,875.5 445.2,875.4 449.4,872.9 453.6,872.6 457.8,872.7 462.0,870.9 466.2,870.6 470.4,869.6 474.6,869.0 478.8,867.7 483.0,868.3 487.2,864.9 491.4,864.3 495.6,863.6 499.8,862.8 504.0,862.8 508.2,861.9 512.4,859.7 516.6,858.7 520.8,860.6 525.0,857.3 529.2,855.2 533.4,855.9 537.6,855.2 541.8,854.1 546.0,853.2 550.2,850.9 554.4,851.4 558.6,849.2 562.8,847.3 567.0,848.5 571.2,847.5 575.4,845.8 579.6,845.2 583.8,844.6 588.0,843.1 592.2,841.1 596.4,841.7 600.6,839.0 604.8,840.0 609.0,838.0 613.2,837.7 617.4,835.5 621.6,837.4 625.8,836.3 630.0,834.0 634.2,833.5 638.4,831.5 642.6,832.2 646.8,832.5 651.0,831.7 655.2,830.9 659.4,828.8 663.6,829.9 667.8,829.3 672.0,827.4 676.2,824.6 680.4,824.5 684.6,823.4 688.8,820.5 693.0,822.4 697.2,821.3 701.4,820.1 705.6,820.1 709.8,818.7 714.0,816.2 718.2,817.6 722.4,815.0 726.6,815.6 730.8,813.1 735.0,813.2 739.2,811.6 743.4,810.1 747.6,811.8 751.8,808.0 756.0,805.7 760.2,808.8 764.4,807.5 768.6,805.3 772.8,804.7 777.0,806.1 781.2,804.9 785.4,806.5 789.6,803.2 793.8,802.4 798.0,802.0 802.2,800.3 806.4,798.6 810.6,797.8 814.8,799.5 819.0,797.7 823.2,798.6 827.4,797.1 831.6,796.7 835.8,796.1 840.0,793.3 844.2,793.7 848.4,793.1 852.6,794.3 856.8,793.6 861.0,792.1 865.2,793.7 869.4,791.0 873.6,789.2 877.8,791.6 882.0,790.2 886.2,789.7 890.4,790.2 894.6,787.6 898.8,790.5 903.0,787.4 907.2,788.1 911.4,787.0 915.6,788.0 919.8,787.8 924.0,785.3 928.2,785.7 932.4,785.7 936.6,786.0 940.8,784.9 945.0,785.5 949.2,784.7 953.4,783.4 957.6,785.4 961.8,785.1 966.0,785.5 970.0,784.3"/>
<polyline stroke="#00c000" points="84.0,927.1 88.2,926.2 92.4,926.0 96.6,924.9 100.8,924.2 105.0,923.6 109.2,923.2 113.4,922.9 117.6,922.4 121.8,922.0 126.0,921.2 130.2,920.6 134.4,919.5 138.6,919.2 142.8,918.9 147.0,918.1 151.2,917.7 155.4,917.7 159.6,917.0 163.8,916.5 168.0,916.3 172.2,915.5 176.4,915.3 180.6,914.8 184.8,914.5 189.0,913.5 193.2,913.3 197.4,912.3 201.6,912.4 205.8,911.4 210.0,911.6 214.2,910.8 218.4,910.5 222.6,909.6 226.8,909.8 231.0,908.4 235.2,908.3 239.4,906.8 243.6,906.8 247.8,906.1 252.0,905.1 256.2,905.0 260.4,904.1 264.6,904.1 268.8,902.7 273.0,901.7 277.2,901.5 281.4,901.4 285.6,901.0 289.8,900.3 294.0,898.7 298.2,899.1 302.4,898.5 306.6,897.6 310.8,897.0 315.0,896.4 319.2,895.2 323.4,895.5 327.6,894.6 331.8,894.3 336.0,893.8 340.2,892.4 344.4,892.5 348.6,891.9 352.8,891.3 357.0,889.7 361.2,888.9 365.4,889.4 369.6,888.5 373.8,887.0 378.0,886.4 382.2,886.7 386.4,886.0 390.6,885.2 394.8,884.7 399.0,883.6 403.2,882.4 407.4,882.6 411.6,881.9 415.8,881.1 420.0,881.1 424.2,879.4 428.4,878.9 432.6,878.6 436.8,878.5 441.0,876.6 445.2,876.6 449.4,874.7 453.6,874.4 457.8,874.0 462.0,872.5 466.2,871.9 470.4,871.8 474.6,870.6 478.8,869.6 483.0,869.8 487.2,867.8 491.4,867.0 495.6,866.8 499.8,865.4 504.0,866.0 508.2,864.5 512.4,863.2 516.6,862.9 520.8,863.2 525.0,860.9 529.2,860.1 533.4,859.8 537.6,858.7 541.8,858.4 546.0,857.0 550.2,855.8 554.4,855.8 558.6,855.2 562.8,853.2 567.0,854.5 571.2,852.7 575.4,851.9 579.6,850.3 583.8,850.4 588.0,849.2 592.2,848.5 596.4,848.4 600.6,846.8 604.8,847.6 609.0,845.9 613.2,845.4 617.4,845.1 621.6,844.3 625.8,843.3 630.0,843.1 634.2,842.3 638.4,841.7 642.6,840.9 646.8,841.2 651.0,840.5 655.2,840.0 659.4,838.5 663.6,839.2 667.8,837.8 672.0,835.2 676.2,834.0 680.4,834.0 684.6,832.7 688.8,830.7 693.0,831.3 697.2,830.6 701.4,829.8 705.6,829.7 709.8,829.7 714.0,828.7 718.2,828.4 722.4,827.9 726.6,827.1 730.8,826.9 735.0,827.2 739.2,826.6 743.4,826.1 747.6,825.4 751.8,824.5 756.0,824.7 760.2,825.4 764.4,823.8 768.6,823.1 772.8,822.8 777.0,823.0 781.2,822.2 785.4,822.5 789.6,822.0 793.8,820.3 798.0,821.0 802.2,819.4 806.4,818.4 810.6,818.4 814.8,818.7 819.0,818.1 823.2,818.4 827.4,817.3 831.6,816.9 835.8,817.1 840.0,816.2 844.2,815.5 848.4,815.6 852.6,816.1 856.8,815.9 861.0,816.1 865.2,816.1 869.4,815.8 873.6,814.8 877.8,815.0 882.0,813.4 886.2,814.7 890.4,814.3 894.6,812.8 898.8,814.9 903.0,814.3 907.2,814.5 911.4,814.1 915.6,814.2 919.8,814.0 924.0,813.3 928.2,812.7 932.4,813.0 936.6,814.1 940.8,813.2 945.0,812.8 949.2,813.5 953.4,811.8 957.6,813.0 961.8,812.9 966.0,812.9 970.0,812.3"/>
<polyline stroke="#c0b400" points="84.0,927.7 88.2,927.0 92.4,926.0 96.6,925.1 100.8,924.4 105.0,924.2 109.2,923.6 113.4,923.1 117.6,922.7 121.8,922.2 126.0,921.1 130.2,920.5 134.4,920.2 138.6,919.9 142.8,919.6 147.0,918.3 151.2,918.5 155.4,918.0 159.6,917.4 163.8,916.8 168.0,916.6 172.2,916.0 176.4,915.3 180.6,915.3 184.8,914.9 189.0,913.9 193.2,913.6 197.4,913.6 201.6,912.6 205.8,911.5 210.0,911.9 214.2,911.3 218.4,911.3 222.6,909.8 226.8,910.0 231.0,908.6 235.2,908.4 239.4,907.5 243.6,907.0 247.8,906.5 252.0,905.7 256.2,905.6 260.4,905.0 264.6,904.5 268.8,903.5 273.0,902.6 277.2,902.2 281.4,901.8 285.6,901.5 289.8,900.9 294.0,899.5 298.2,899.8 302.4,899.5 306.6,898.6 310.8,897.7 315.0,897.2 319.2,896.4 323.4,895.8 327.6,895.7 331.8,895.1 336.0,894.3 340.2,893.8 344.4,893.0 348.6,892.6 352.8,891.6 357.0,890.9 361.2,889.9 365.4,890.4 369.6,889.4 373.8,888.1 378.0,887.8 382.2,887.4 386.4,887.3 390.6,886.6 394.8,885.4 399.0,884.6 403.2,884.0 407.4,883.6 411.6,882.6 415.8,882.6 420.0,882.2 424.2,881.1 428.4,880.4 432.6,880.3 436.8,879.8 441.0,878.6 445.2,878.2 449.4,876.9 453.6,876.8 457.8,875.7 462.0,874.7 466.2,874.6 470.4,874.1 474.6,872.9 478.8,872.7 483.0,872.1 487.2,870.8 491.4,869.6 495.6,869.7 499.8,868.8 504.0,868.8 508.2,867.5 512.4,866.8 516.6,866.3 520.8,866.8 525.0,864.8 529.2,864.4 533.4,863.9 537.6,863.3 541.8,862.8 546.0,861.4 550.2,860.4 554.4,860.8 558.6,859.5 562.8,858.5 567.0,858.3 571.2,857.7 575.4,856.8 579.6,855.8 583.8,855.3 588.0,854.2 592.2,853.4 596.4,853.2 600.6,852.1 604.8,852.1 609.0,851.5 613.2,850.8 617.4,850.9 621.6,850.7 625.8,849.7 630.0,849.4 634.2,848.6 638.4,848.8 642.6,847.9 646.8,847.9 651.0,847.9 655.2,847.4 659.4,846.5 663.6,847.2 667.8,845.4 672.0,844.4 676.2,843.2 680.4,843.8 684.6,842.9 688.8,841.6 693.0,842.4 697.2,841.4 701.4,841.1 705.6,840.8 709.8,841.3 714.0,840.5 718.2,839.7 722.4,838.7 726.6,838.5 730.8,839.4 735.0,838.8 739.2,838.5 743.4,836.8 747.6,837.8 751.8,836.7 756.0,837.4 760.2,837.4 764.4,835.9 768.6,835.4 772.8,834.8 777.0,835.6 781.2,834.5 785.4,834.3 789.6,834.3 793.8,832.9 798.0,833.3 802.2,833.2 806.4,831.9 810.6,832.0 814.8,832.3 819.0,832.9 823.2,832.5 827.4,832.3 831.6,832.4 835.8,832.4 840.0,831.7 844.2,832.3 848.4,831.1 852.6,832.8 856.8,831.9 861.0,832.0 865.2,832.5 869.4,832.2 873.6,831.7 877.8,831.9 882.0,830.5 886.2,831.9 890.4,831.2 894.6,830.1 898.8,831.9 903.0,830.8 907.2,831.2 911.4,830.7 915.6,831.4 919.8,831.9 924.0,830.3 928.2,829.5 932.4,830.3 936.6,831.0 940.8,830.2 945.0,829.9 949.2,830.8 953.4,829.3 957.6,829.9 961.8,829.7 966.0,830.1 970.0,829.6"/>
<polyline stroke="#b87800" points="84.0,927.8 88.2,926.7 92.4,926.6 96.6,925.6 100.8,924.9 105.0,924.6 109.2,923.9 113.4,923.3 117.6,922.7 121.8,922.5 126.0,921.8 130.2,920.7 134.4,920.2 138.6,920.2 142.8,919.5 147.0,918.6 151.2,918.3 155.4,917.9 159.6,917.8 163.8,917.0 168.0,916.8 172.2,916.2 176.4,916.0 180.6,915.7 184.8,915.2 189.0,914.6 193.2,913.8 197.4,913.7 201.6,913.2 205.8,912.0 210.0,912.5 214.2,911.5 218.4,911.8 222.6,910.1 226.8,910.5 231.0,909.0 235.2,908.5 239.4,907.7 243.6,907.4 247.8,906.8 252.0,906.3 256.2,906.0 260.4,905.5 264.6,905.3 268.8,903.8 273.0,903.5 277.2,903.2 281.4,902.3 285.6,901.9 289.8,901.3 294.0,900.4 298.2,900.0 302.4,899.8 306.6,899.2 310.8,898.1 315.0,897.8 319.2,897.1 323.4,896.8 327.6,895.5 331.8,895.6 336.0,895.2 340.2,893.8 344.4,894.2 348.6,893.5 352.8,892.5 357.0,891.9 361.2,890.3 365.4,891.0 369.6,889.8 373.8,889.0 378.0,888.9 382.2,888.4 386.4,888.2 390.6,886.8 394.8,886.8 399.0,885.7 403.2,885.0 407.4,885.4 411.6,884.9 415.8,883.8 420.0,883.7 424.2,881.9 428.4,882.0 432.6,881.7 436.8,881.0 441.0,880.2 445.2,879.9 449.4,878.9 453.6,878.4 457.8,877.6 462.0,876.9 466.2,876.4 470.4,876.0 474.6,875.1 478.8,874.6 483.0,874.3 487.2,873.1 491.4,872.4 495.6,871.8 499.8,870.8 504.0,871.8 508.2,870.9 512.4,869.8 516.6,869.3 520.8,870.2 525.0,868.0 529.2,867.8 533.4,867.1 537.6,866.5 541.8,866.0 546.0,865.0 550.2,864.5 554.4,865.0 558.6,863.8 562.8,862.9 567.0,863.7 571.2,862.9 575.4,861.5 579.6,860.8 583.8,861.2 588.0,859.5 592.2,858.6 596.4,858.7 600.6,858.4 604.8,857.9 609.0,857.1 613.2,857.2 617.4,857.1 621.6,856.7 625.8,855.5 630.0,855.0 634.2,855.2 638.4,854.2 642.6,854.1 646.8,854.0 651.0,854.1 655.2,854.0 659.4,852.4 663.6,853.6 667.8,852.4 672.0,851.6 676.2,850.2 680.4,850.9 684.6,851.0 688.8,850.1 693.0,850.2 697.2,849.7 701.4,849.1 705.6,849.7 709.8,849.3 714.0,848.7 718.2,848.9 722.4,848.1 726.6,847.5 730.8,847.9 735.0,847.4 739.2,846.4 743.4,846.3 747.6,847.4 751.8,846.1 756.0,846.0 760.2,845.5 764.4,845.2 768.6,844.8 772.8,844.1 777.0,845.4 781.2,844.0 785.4,844.3 789.6,844.2 793.8,843.6 798.0,842.9 802.2,842.9 806.4,842.1 810.6,842.5 814.8,842.8 819.0,843.0 823.2,843.0 827.4,843.2 831.6,843.5 835.8,843.5 840.0,842.8 844.2,842.9 848.4,842.4 852.6,842.8 856.8,843.0 861.0,843.3 865.2,843.3 869.4,843.4 873.6,842.3 877.8,843.0 882.0,842.0 886.2,842.9 890.4,842.7 894.6,842.5 898.8,842.1 903.0,841.7 907.2,842.5 911.4,842.3 915.6,842.6 919.8,842.7 924.0,841.5 928.2,841.3 932.4,841.9 936.6,843.0 940.8,841.8 945.0,842.7 949.2,842.7 953.4,840.9 957.6,842.1 961.8,841.8 966.0,841.9 970.0,841.3"/>
<polyline stroke="#cc0000" points="84.0,928.5 88.2,927.2 92.4,927.1 96.6,926.1 100.8,925.0 105.0,925.0 109.2,924.3 113.4,924.1 117.6,923.1 121.8,923.1 126.0,922.0 130.2,921.3 134.4,920.9 138.6,920.5 142.8,920.3 147.0,919.2 151.2,919.1 155.4,918.4 159.6,917.8 163.8,917.6 168.0,917.4 172.2,916.7 176.4,916.5 180.6,915.9 184.8,915.9 189.0,915.1 193.2,914.4 197.4,914.0 201.6,914.0 205.8,912.7 210.0,912.8 214.2,912.0 218.4,911.4 222.6,910.3 226.8,910.4 231.0,909.5 235.2,909.3 239.4,908.4 243.6,908.0 247.8,907.6 252.0,906.9 256.2,906.1 260.4,905.5 264.6,905.4 268.8,904.5 273.0,903.9 277.2,903.1 281.4,902.6 285.6,903.1 289.8,901.9 294.0,900.8 298.2,900.8 302.4,900.2 306.6,899.9 310.8,899.0 315.0,898.9 319.2,897.9 323.4,897.4 327.6,896.8 331.8,897.0 336.0,895.8 340.2,895.0 344.4,895.1 348.6,894.1 352.8,893.3 357.0,892.9 361.2,891.9 365.4,892.2 369.6,891.0 373.8,890.2 378.0,889.5 382.2,889.7 386.4,889.4 390.6,888.4 394.8,888.3 399.0,887.3 403.2,886.1 407.4,886.7 411.6,885.9 415.8,885.2 420.0,885.2 424.2,884.2 428.4,883.5 432.6,883.4 436.8,882.9 441.0,881.9 445.2,881.9 449.4,880.3 453.6,880.3 457.8,879.7 462.0,878.9 466.2,878.6 470.4,878.9 474.6,877.8 478.8,877.2 483.0,877.2 487.2,875.6 491.4,874.8 495.6,874.8 499.8,874.1 504.0,874.5 508.2,874.0 512.4,873.2 516.6,872.5 520.8,873.3 525.0,871.2 529.2,870.3 533.4,870.7 537.6,870.5 541.8,870.2 546.0,869.5 550.2,868.4 554.4,868.9 558.6,868.1 562.8,866.9 567.0,867.6 571.2,866.9 575.4,866.4 579.6,865.3 583.8,864.7 588.0,864.6 592.2,864.2 596.4,864.4 600.6,863.0 604.8,863.6 609.0,862.2 613.2,862.8 617.4,862.0 621.6,862.3 625.8,861.5 630.0,860.5 634.2,860.4 638.4,860.5 642.6,860.2 646.8,859.7 651.0,860.5 655.2,859.9 659.4,858.9 663.6,860.0 667.8,860.0 672.0,858.4 676.2,857.5 680.4,857.8 684.6,857.8 688.8,856.1 693.0,857.2 697.2,856.6 701.4,856.1 705.6,856.7 709.8,856.8 714.0,855.8 718.2,855.6 722.4,855.3 726.6,854.5 730.8,855.0 735.0,855.0 739.2,854.2 743.4,853.3 747.6,854.4 751.8,853.2 756.0,853.8 760.2,854.6 764.4,853.1 768.6,853.4 772.8,853.0 777.0,853.9 781.2,853.0 785.4,853.3 789.6,853.3 793.8,853.3 798.0,853.1 802.2,852.9 806.4,851.8 810.6,851.8 814.8,852.6 819.0,852.7 823.2,853.1 827.4,852.3 831.6,852.8 835.8,853.1 840.0,852.2 844.2,852.5 848.4,852.6 852.6,853.0 856.8,853.1 861.0,852.7 865.2,852.8 869.4,852.8 873.6,852.0 877.8,852.4 882.0,850.8 886.2,852.2 890.4,851.8 894.6,851.5 898.8,852.4 903.0,851.4 907.2,851.8 911.4,851.6 915.6,852.1 919.8,852.1 924.0,852.0 928.2,851.2 932.4,852.0 936.6,852.5 940.8,851.8 945.0,851.7 949.2,852.1 953.4,851.0 957.6,851.7 961.8,851.4 966.0,852.0 970.0,851.4"/>
<polyline stroke="#c000c0" stroke-dasharray="9.2 8" points="84.0,926.0 88.2,925.0 92.4,925.0 96.6,924.3 100.8,923.1 105.0,922.8 109.2,922.1 113.4,922.1 117.6,921.7 121.8,921.4 126.0,920.2 130.2,918.9 134.4,918.6 138.6,918.7 142.8,918.2 147.0,916.7 151.2,917.1 155.4,916.8 159.6,916.5 163.8,915.1 168.0,915.4 172.2,914.5 176.4,914.3 180.6,913.5 184.8,914.1 189.0,912.7 193.2,911.8 197.4,911.6 201.6,911.2 205.8,909.8 210.0,910.6 214.2,909.6 218.4,909.6 222.6,907.9 226.8,908.5 231.0,907.0 235.2,906.7 239.4,905.1 243.6,905.2 247.8,905.0 252.0,904.5 256.2,903.9 260.4,901.8 264.6,902.4 268.8,901.7 273.0,901.2 277.2,900.9 281.4,900.1 285.6,899.7 289.8,898.8 294.0,897.6 298.2,897.6 302.4,897.1 306.6,896.4 310.8,895.4 315.0,894.1 319.2,893.5 323.4,894.1 327.6,893.1 331.8,892.3 336.0,891.7 340.2,890.7 344.4,890.6 348.6,889.5 352.8,888.3 357.0,888.1 361.2,886.2 365.4,886.8 369.6,886.6 373.8,884.1 378.0,882.8 382.2,883.6 386.4,882.4 390.6,882.1 394.8,882.0 399.0,881.3 403.2,879.4 407.4,880.1 411.6,879.2 415.8,877.7 420.0,877.3 424.2,875.9 428.4,875.0 432.6,875.6 436.8,875.1 441.0,872.1 445.2,872.7 449.4,870.2 453.6,870.0 457.8,869.1 462.0,866.8 466.2,866.8 470.4,867.4 474.6,865.6 478.8,863.9 483.0,863.4 487.2,860.6 491.4,859.2 495.6,858.7 499.8,857.1 504.0,858.6 508.2,856.7 512.4,854.7 516.6,853.0 520.8,855.2 525.0,852.2 529.2,849.9 533.4,849.2 537.6,850.1 541.8,847.2 546.0,844.5 550.2,843.9 554.4,843.2 558.6,841.5 562.8,839.6 567.0,839.6 571.2,837.3 575.4,836.4 579.6,835.0 583.8,832.7 588.0,831.1 592.2,830.1 596.4,829.9 600.6,827.5 604.8,827.5 609.0,824.5 613.2,824.8 617.4,824.1 621.6,825.4 625.8,819.9 630.0,819.2 634.2,820.3 638.4,817.6 642.6,816.9 646.8,818.4 651.0,816.8 655.2,816.2 659.4,813.4 663.6,815.2 667.8,812.6 672.0,808.2 676.2,805.3 680.4,805.7 684.6,804.0 688.8,799.7 693.0,800.3 697.2,798.9 701.4,796.4 705.6,797.2 709.8,795.5 714.0,790.8 718.2,788.8 722.4,787.5 726.6,784.6 730.8,785.8 735.0,782.3 739.2,780.4 743.4,778.5 747.6,779.1 751.8,774.9 756.0,769.9 760.2,774.8 764.4,772.8 768.6,768.3 772.8,767.0 777.0,771.2 781.2,766.4 785.4,766.4 789.6,764.4 793.8,764.3 798.0,760.8 802.2,759.1 806.4,755.4 810.6,756.2 814.8,756.8 819.0,756.8 823.2,756.4 827.4,754.9 831.6,753.3 835.8,753.1 840.0,750.1 844.2,750.0 848.4,746.1 852.6,749.3 856.8,746.7 861.0,747.4 865.2,747.2 869.4,742.1 873.6,742.6 877.8,741.8 882.0,739.5 886.2,739.9 890.4,737.7 894.6,735.0 898.8,736.8 903.0,735.6 907.2,734.9 911.4,730.4 915.6,731.9 919.8,732.2 924.0,728.4 928.2,727.9 932.4,730.1 936.6,731.2 940.8,728.4 945.0,725.9 949.2,729.0 953.4,723.4 957.6,722.3 961.8,721.5 966.0,722.9 970.0,719.6"/>
</g>
<rect x="98" y="369" width="279" height="247" fill="#fff"/>
<line x1="114.8" y1="385.3" x2="150.9" y2="385.3" stroke="#8f8f8f" stroke-width="3.2"/>
<text transform="translate(166.50,395.90) scale(1,1.020)" stroke="#000" stroke-width="0.60">true signal</text>
<line x1="114.8" y1="416.1" x2="150.9" y2="416.1" stroke="#0000d8" stroke-width="3.2"/>
<text transform="translate(166.50,426.72) scale(1,1.020)" stroke="#000" stroke-width="0.60">poly 0 (offset)</text>
<line x1="114.8" y1="446.9" x2="150.9" y2="446.9" stroke="#009dc0" stroke-width="3.2"/>
<text transform="translate(166.50,457.54) scale(1,1.020)" stroke="#000" stroke-width="0.60">poly 1 (tilt)</text>
<line x1="114.8" y1="477.8" x2="150.9" y2="477.8" stroke="#00c000" stroke-width="3.2"/>
<text transform="translate(166.50,488.36) scale(1,1.020)" stroke="#000" stroke-width="0.60">poly 2 (bow)</text>
<line x1="114.8" y1="508.6" x2="150.9" y2="508.6" stroke="#c0b400" stroke-width="3.2"/>
<text transform="translate(166.50,519.18) scale(1,1.020)" stroke="#000" stroke-width="0.60">poly 3 (cubic)</text>
<line x1="114.8" y1="539.4" x2="150.9" y2="539.4" stroke="#b87800" stroke-width="3.2"/>
<text transform="translate(166.50,550.00) scale(1,1.020)" stroke="#000" stroke-width="0.60">poly 4 (quartic)</text>
<line x1="114.8" y1="570.2" x2="150.9" y2="570.2" stroke="#cc0000" stroke-width="3.2"/>
<text transform="translate(166.50,580.82) scale(1,1.020)" stroke="#000" stroke-width="0.60">poly 5 (quintic)</text>
<line x1="114.8" y1="601.0" x2="150.9" y2="601.0" stroke="#c000c0" stroke-width="3.2" stroke-dasharray="9.2 8"/>
<text transform="translate(166.50,611.64) scale(1,1.020)" stroke="#000" stroke-width="0.60">median</text>
<rect x="84.0" y="89.5" width="886.0" height="539.3" stroke="#000" stroke-width="3.5" stroke-linejoin="miter" fill="none"/>
<rect x="84.0" y="640.0" width="886.0" height="317.0" stroke="#000" stroke-width="3.5" stroke-linejoin="miter" fill="none"/>
<text transform="translate(68.00,589.97) scale(1,1.020)" text-anchor="end" stroke="#000" stroke-width="0.60">16</text>
<text transform="translate(68.00,491.92) scale(1,1.020)" text-anchor="end" stroke="#000" stroke-width="0.60">18</text>
<text transform="translate(68.00,393.86) scale(1,1.020)" text-anchor="end" stroke="#000" stroke-width="0.60">20</text>
<text transform="translate(68.00,295.81) scale(1,1.020)" text-anchor="end" stroke="#000" stroke-width="0.60">22</text>
<text transform="translate(68.00,197.75) scale(1,1.020)" text-anchor="end" stroke="#000" stroke-width="0.60">24</text>
<text transform="translate(68.00,99.70) scale(1,1.020)" text-anchor="end" stroke="#000" stroke-width="0.60">26</text>
<text transform="translate(68.00,967.20) scale(1,1.020)" text-anchor="end" stroke="#000" stroke-width="0.60">0</text>
<text transform="translate(68.00,909.56) scale(1,1.020)" text-anchor="end" stroke="#000" stroke-width="0.60">2</text>
<text transform="translate(68.00,851.93) scale(1,1.020)" text-anchor="end" stroke="#000" stroke-width="0.60">4</text>
<text transform="translate(68.00,794.29) scale(1,1.020)" text-anchor="end" stroke="#000" stroke-width="0.60">6</text>
<text transform="translate(68.00,736.65) scale(1,1.020)" text-anchor="end" stroke="#000" stroke-width="0.60">8</text>
<text transform="translate(68.00,679.02) scale(1,1.020)" text-anchor="end" stroke="#000" stroke-width="0.60">10</text>
<text transform="translate(92.53,69.10) scale(1,1.020)" text-anchor="middle" stroke="#000" stroke-width="0.60">200</text>
<text transform="translate(220.78,69.10) scale(1,1.020)" text-anchor="middle" stroke="#000" stroke-width="0.60">100</text>
<text transform="translate(349.03,69.10) scale(1,1.020)" text-anchor="middle" stroke="#000" stroke-width="0.60">50</text>
<text transform="translate(518.57,69.10) scale(1,1.020)" text-anchor="middle" stroke="#000" stroke-width="0.60">20</text>
<text transform="translate(646.82,69.10) scale(1,1.020)" text-anchor="middle" stroke="#000" stroke-width="0.60">10</text>
<text transform="translate(775.06,69.10) scale(1,1.020)" text-anchor="middle" stroke="#000" stroke-width="0.60">5</text>
<text transform="translate(944.60,69.10) scale(1,1.020)" text-anchor="middle" stroke="#000" stroke-width="0.60">2</text>
<text transform="translate(117.73,998.70) scale(1,1.020)" text-anchor="middle" stroke="#000" stroke-width="0.60">0.002</text>
<text transform="translate(287.27,998.70) scale(1,1.020)" text-anchor="middle" stroke="#000" stroke-width="0.60">0.005</text>
<text transform="translate(415.52,998.70) scale(1,1.020)" text-anchor="middle" stroke="#000" stroke-width="0.60">0.01</text>
<text transform="translate(543.77,998.70) scale(1,1.020)" text-anchor="middle" stroke="#000" stroke-width="0.60">0.02</text>
<text transform="translate(713.30,998.70) scale(1,1.020)" text-anchor="middle" stroke="#000" stroke-width="0.60">0.05</text>
<text transform="translate(841.55,998.70) scale(1,1.020)" text-anchor="middle" stroke="#000" stroke-width="0.60">0.1</text>
<text transform="translate(969.80,998.70) scale(1,1.020)" text-anchor="middle" stroke="#000" stroke-width="0.60">0.2</text>
<text transform="translate(526.90,22.60) scale(1,1.020)" text-anchor="middle" stroke="#000" stroke-width="0.60">Profile length [µm]</text>
<text transform="translate(526.90,1045.30) scale(1,1.020)" text-anchor="middle" stroke="#000" stroke-width="0.60">Ratio α = T/L</text>
<text transform="translate(20.2,358.8) rotate(-90)" text-anchor="middle" style="font-size:27.8px" stroke="#000" stroke-width="0.5">Measured rms roughnes σ [nm]</text>
<text transform="translate(20.2,798.5) rotate(-90)" text-anchor="middle" stroke="#000" stroke-width="0.5">Standard dev. of σ [nm]</text>
</svg></body></html>
